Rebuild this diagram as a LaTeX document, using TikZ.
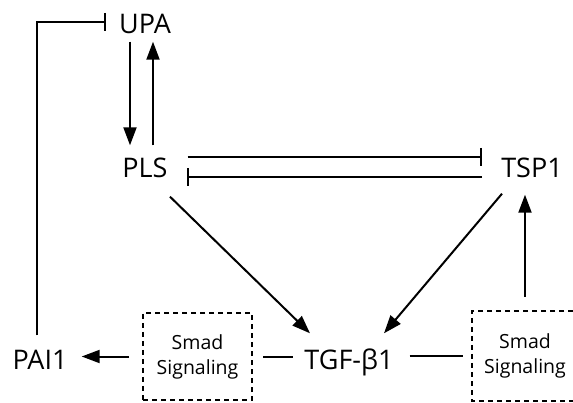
\documentclass[tikz,border=0pt]{standalone}
\usepackage{fontspec}
\setmainfont{Open Sans}
\usepackage{tikz}
\usetikzlibrary{arrows.meta}

\begin{document}
\begin{tikzpicture}[
  x=1pt, y=-1pt,
  rotulo/.style={inner sep=0pt, text height=19pt, text depth=0pt,
                 font=\fontsize{27}{30}\selectfont},
  tracejado/.style={draw=black, line width=2pt, dash pattern=on 5pt off 4pt},
  caixa/.style={tracejado, minimum width=109pt, minimum height=87pt, align=center,
                inner sep=0pt, font=\fontsize{19.5}{25}\selectfont},
  seta/.style={line width=2pt, -{Triangle[length=18pt,width=13pt]}},
  inibe/.style={line width=2pt, -{Bar[width=18pt]}},
  liga/.style={line width=2pt}
]
  \useasboundingbox (0,0) rectangle (573,403);

  \node[rotulo] (upa) at (145,24) {UPA};
  \node[rotulo] (pls) at (145,168) {PLS};
  \node[rotulo] (tsp) at (532,168) {TSP1};
  \node[rotulo] (pai) at (40,360) {PAI1};
  \node[rotulo] (tgf) at (349,360) {TGF-β1};
  \node[caixa] (smadE) at (197.5,356.5) {Smad\\Signaling};
  \node[caixa, draw=none, minimum width=104pt, minimum height=88pt] (smadD) at (525,356) {Smad\\Signaling};
  % right box is open at the page edge
  \draw[tracejado] ([xshift=40pt]smadD.north east) -- (smadD.north west)
    -- (smadD.south west) -- ([xshift=40pt]smadD.south east);

  % UPA <-> PLS
  \draw[seta, shorten <=8pt, shorten >=13pt] ([xshift=-15pt]upa.south) -- ([xshift=-15pt]pls.north);
  \draw[seta, shorten <=13pt, shorten >=8pt] ([xshift=8pt]pls.north) -- ([xshift=8pt]upa.south);

  % PAI1 inhibits UPA
  \draw[inibe] ([xshift=-3pt,yshift=15pt]pai.north) |- ([xshift=-13pt,yshift=2pt]upa.west);

  % PLS and TSP1 inhibit each other
  \draw[inibe] ([xshift=20pt,yshift=11pt]pls.east) -- ([xshift=-19pt,yshift=11pt]tsp.west);
  \draw[inibe] ([xshift=-19pt,yshift=-9pt]tsp.west) -- ([xshift=19pt,yshift=-9pt]pls.east);

  % both activate TGF-beta1
  \draw[seta] ([xshift=25pt,yshift=-19pt]pls.south) -- ([xshift=-39pt,yshift=17pt]tgf.north);
  \draw[seta] ([xshift=-30pt,yshift=-16pt]tsp.south) -- ([xshift=35pt,yshift=17pt]tgf.north);

  % Smad signaling row
  \draw[seta, shorten <=13pt, shorten >=14pt] (smadE.west) -- (smadE.west -| pai.east);
  \draw[liga, shorten <=10pt, shorten >=11pt] (smadE.east) -- (smadE.east -| tgf.west);
  \draw[liga, shorten <=16pt, shorten >=9pt] (tgf.east |- smadD.west) -- (smadD.west);
  \draw[seta, shorten <=14pt, shorten >=17pt] (smadD.north) -- (smadD.north |- tsp.south);
\end{tikzpicture}
\end{document}
